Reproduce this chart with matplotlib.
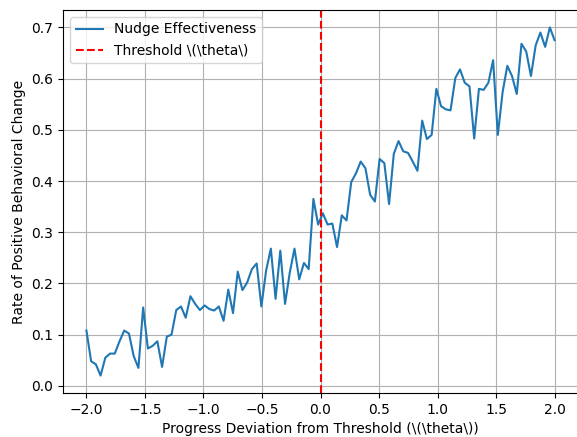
import numpy as np
import matplotlib
matplotlib.use("Agg")
import matplotlib.pyplot as plt

# progress deviation, 100 evenly spaced points from -2 to 2
deviation = np.linspace(-2, 2, 100)

# rate of positive behavioral change
rate = [0.108, 0.048, 0.042, 0.020, 0.055, 0.063, 0.063, 0.087, 0.108, 0.102,
        0.058, 0.035, 0.153, 0.073, 0.078, 0.087, 0.037, 0.096, 0.100, 0.148,
        0.155, 0.133, 0.175, 0.160, 0.148, 0.157, 0.150, 0.147, 0.155, 0.127,
        0.188, 0.142, 0.223, 0.187, 0.202, 0.228, 0.239, 0.155, 0.225, 0.268,
        0.170, 0.264, 0.160, 0.221, 0.268, 0.208, 0.240, 0.228, 0.365, 0.315,
        0.337, 0.315, 0.317, 0.271, 0.333, 0.323, 0.398, 0.415, 0.438, 0.425,
        0.373, 0.360, 0.443, 0.435, 0.355, 0.453, 0.478, 0.458, 0.455, 0.438,
        0.420, 0.518, 0.482, 0.490, 0.580, 0.546, 0.540, 0.538, 0.601, 0.618,
        0.592, 0.585, 0.483, 0.580, 0.578, 0.592, 0.636, 0.490, 0.573, 0.625,
        0.605, 0.570, 0.668, 0.653, 0.605, 0.665, 0.690, 0.662, 0.700, 0.675]

threshold = 0.0

fig = plt.figure(figsize=(5.77, 4.37), dpi=100)
# the reference is cropped just past the right spine
ax = fig.add_axes([63 / 577, 44 / 437, 515 / 577, 383 / 437])
ax.plot(deviation, rate, label='Nudge Effectiveness')
ax.axvline(threshold, color='red', linestyle='--', label='Threshold \\(\\theta\\)')
ax.set_xlabel('Progress Deviation from Threshold (\\(\\theta\\))')
ax.set_ylabel('Rate of Positive Behavioral Change')
ax.legend(loc='upper left')
ax.grid(True)
fig.savefig('out.png', dpi=100)
